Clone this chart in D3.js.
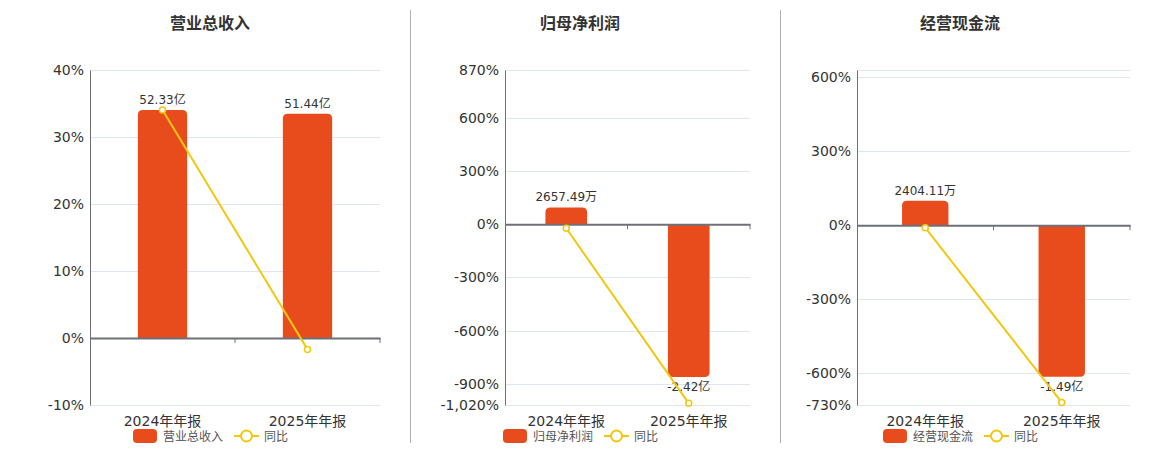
<!DOCTYPE html>
<html>
<head>
<meta charset="utf-8">
<script src="https://cdn.jsdelivr.net/npm/d3@7"></script>
<style>
  body { margin: 0; background: #fff; }
  svg { display: block; font-family: "DejaVu Sans", "Noto Sans CJK SC", sans-serif; }
</style>
</head>
<body>
<svg id="chart"></svg>
<script>
let width = 1160
let height = 450

// data
let categories = ["2024年年报", "2025年年报"]

let titles = ["营业总收入", "归母净利润", "经营现金流"]

// bar values in 亿
let revenue = [52.33, 51.44]
let netProfit = [0.265749, -2.42]
let cashFlow = [0.240411, -1.49]

// 同比 in %
let revenueYoy = [34.03, -1.70]
let netProfitYoy = [-23, -1010.7]
let cashFlowYoy = [-10, -719.8]

// y tick labels (%)
let revenueTicks = [40, 30, 20, 10, 0, -10]
let netProfitTicks = [870, 600, 300, 0, -300, -600, -900, -1020]
let cashFlowTicks = [630, 600, 300, 0, -300, -600, -730]
let cashFlowLabelled = [600, 300, 0, -300, -600, -730]

// hidden bar axis top value (亿)
let barTops = [61.5, 2.444, 1.525]

let barColor = "#e84c1d"
let lineColor = "#f2c70f"
let axisColor = "#6e7079"
let gridColor = "#e0e6f1"

let panels = [
  { left: 90, right: 380, titleX: 210, bars: revenue, yoy: revenueYoy, ticks: revenueTicks, labelled: revenueTicks,
    legendX: 133 },
  { left: 505, right: 750, titleX: 580, bars: netProfit, yoy: netProfitYoy, ticks: netProfitTicks, labelled: netProfitTicks,
    legendX: 503 },
  { left: 857, right: 1130, titleX: 960, bars: cashFlow, yoy: cashFlowYoy, ticks: cashFlowTicks, labelled: cashFlowLabelled,
    legendX: 883 }
]

let plotTop = 70
let plotBottom = 405

let svg = d3.select("#chart")
  .attr("width", width)
  .attr("height", height)

let locale = d3.formatLocale({ decimal: ".", thousands: ",", grouping: [3], currency: ["", ""], minus: "-" })
let fmtPct = locale.format(",")

let fmtMoney = (v) => {
  if (Math.abs(v) >= 1) return v.toFixed(2) + "亿"
  return (v * 10000).toFixed(2) + "万"
}

// bar with rounded outer corners
let barPath = (x, w, y0, y1, r) => {
  let h = Math.abs(y1 - y0)
  r = Math.min(r, h / 2, w / 2)
  let s = y1 < y0 ? 1 : -1
  return "M" + x + "," + y0 +
    "V" + (y1 + s * r) +
    "Q" + x + "," + y1 + " " + (x + r) + "," + y1 +
    "H" + (x + w - r) +
    "Q" + (x + w) + "," + y1 + " " + (x + w) + "," + (y1 + s * r) +
    "V" + y0 + "Z"
}

// separators
svg.selectAll(".sep")
  .data([410.5, 780.5])
  .enter()
  .append("line")
  .attr("x1", d => d).attr("x2", d => d)
  .attr("y1", 10).attr("y2", 443)
  .attr("stroke", "#b0b0b0")
  .attr("stroke-width", 1)

panels.forEach((p, i) => {
  let g = svg.append("g")

  let yMax = d3.max(p.ticks)
  let yMin = d3.min(p.ticks)

  let yScale = d3.scaleLinear().domain([yMin, yMax]).range([plotBottom, plotTop])

  // bar axis shares the zero line with the % axis
  let barTop = barTops[i]
  let barBottom = barTop * yMin / yMax
  let barScale = d3.scaleLinear().domain([barBottom, barTop]).range([plotBottom, plotTop])

  let xScale = d3.scaleBand()
    .domain(categories)
    .range([p.left, p.right])

  // title
  g.append("text")
    .attr("x", p.titleX)
    .attr("y", 29)
    .attr("text-anchor", "middle")
    .style("font-size", "16px")
    .style("font-weight", "bold")
    .attr("fill", "#333")
    .text(titles[i])

  // grid
  g.selectAll(".grid")
    .data(p.ticks)
    .enter()
    .append("line")
    .attr("x1", p.left).attr("x2", p.right)
    .attr("y1", d => Math.round(yScale(d)) + 0.5)
    .attr("y2", d => Math.round(yScale(d)) + 0.5)
    .attr("stroke", gridColor)

  // y axis
  let yAxis = d3.axisLeft(yScale)
    .tickValues(p.labelled)
    .tickSize(0)
    .tickPadding(6)
    .tickFormat(d => fmtPct(d) + "%")

  let ya = g.append("g")
    .attr("transform", "translate(" + p.left + ",0)")
    .call(yAxis)
  ya.select(".domain").attr("stroke", axisColor)
  ya.selectAll("text")
    .style("font-size", "14px")
    .style("font-family", "DejaVu Sans, Noto Sans CJK SC")
    .attr("fill", "#333")

  // bars
  let bw = xScale.bandwidth() * 0.34
  g.selectAll(".bar")
    .data(p.bars)
    .enter()
    .append("path")
    .attr("d", (d, j) => {
      let cx = xScale(categories[j]) + xScale.bandwidth() / 2
      return barPath(cx - bw / 2, bw, barScale(0), barScale(d), 5)
    })
    .attr("fill", barColor)

  // bar labels
  g.selectAll(".blabel")
    .data(p.bars)
    .enter()
    .append("text")
    .attr("x", (d, j) => xScale(categories[j]) + xScale.bandwidth() / 2)
    .attr("y", d => d >= 0 ? barScale(d) - 6 : barScale(d) + 14)
    .attr("text-anchor", "middle")
    .style("font-size", "12px")
    .attr("fill", "#333")
    .text(d => fmtMoney(d))

  // x axis at zero
  let xAxis = d3.axisBottom(xScale).tickSize(0).tickFormat("")
  let xa = g.append("g")
    .attr("transform", "translate(0," + yScale(0) + ")")
    .call(xAxis)
  xa.select(".domain").attr("stroke", axisColor).attr("stroke-width", 2)

  // boundary ticks
  g.selectAll(".bt")
    .data(categories)
    .enter()
    .append("line")
    .attr("x1", d => xScale(d) + xScale.bandwidth())
    .attr("x2", d => xScale(d) + xScale.bandwidth())
    .attr("y1", yScale(0))
    .attr("y2", yScale(0) + 5)
    .attr("stroke", axisColor)

  // category labels
  g.selectAll(".clabel")
    .data(categories)
    .enter()
    .append("text")
    .attr("x", d => xScale(d) + xScale.bandwidth() / 2)
    .attr("y", 426)
    .attr("text-anchor", "middle")
    .style("font-size", "14px")
    .attr("fill", "#333")
    .text(d => d)

  // yoy line
  let line = d3.line()
    .x((d, j) => xScale(categories[j]) + xScale.bandwidth() / 2)
    .y(d => yScale(d))

  g.append("path")
    .datum(p.yoy)
    .attr("d", line)
    .attr("fill", "none")
    .attr("stroke", lineColor)
    .attr("stroke-width", 2)

  g.selectAll(".pt")
    .data(p.yoy)
    .enter()
    .append("circle")
    .attr("cx", (d, j) => xScale(categories[j]) + xScale.bandwidth() / 2)
    .attr("cy", d => yScale(d))
    .attr("r", 3)
    .attr("fill", "#fff")
    .attr("stroke", lineColor)
    .attr("stroke-width", 1.5)

  // legend
  let lg = g.append("g").attr("transform", "translate(" + p.legendX + ",436)")
  lg.append("rect")
    .attr("x", 0).attr("y", -7)
    .attr("width", 24).attr("height", 14)
    .attr("rx", 4)
    .attr("fill", barColor)
  let lt = lg.append("text")
    .attr("x", 30).attr("y", 4.5)
    .style("font-size", "12px")
    .attr("fill", "#555")
    .text(titles[i])
  let tw = lt.node().getComputedTextLength()
  let lx = 30 + tw + 11
  lg.append("line")
    .attr("x1", lx).attr("x2", lx + 25)
    .attr("y1", 0).attr("y2", 0)
    .attr("stroke", lineColor)
    .attr("stroke-width", 2)
  lg.append("circle")
    .attr("cx", lx + 12.5).attr("cy", 0)
    .attr("r", 5.5)
    .attr("fill", "#fff")
    .attr("stroke", lineColor)
    .attr("stroke-width", 2)
  lg.append("text")
    .attr("x", lx + 30).attr("y", 4.5)
    .style("font-size", "12px")
    .attr("fill", "#555")
    .text("同比")
})
</script>
</body>
</html>
